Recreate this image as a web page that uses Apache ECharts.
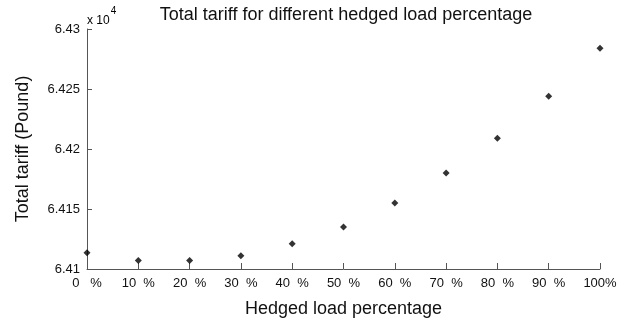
<!DOCTYPE html>
<html>
<head>
<meta charset="utf-8">
<script src="https://cdn.jsdelivr.net/npm/echarts@6/dist/echarts.min.js"></script>
<style>
  html, body { margin: 0; padding: 0; background: #fff; }
  #chart { width: 639px; height: 324px; }
</style>
</head>
<body>
<div id="chart"></div>
<script>
// Hedged load share (%) and the resulting total tariff (Pound)
const hedgedPercent = [0, 10, 20, 30, 40, 50, 60, 70, 80, 90, 100];
const totalTariff = [64113.5, 64107, 64107, 64111, 64121, 64135, 64155, 64180, 64209, 64244, 64284];
const xTickLabels = ['0   %', '10  %', '20  %', '30  %', '40  %', '50  %', '60  %', '70  %', '80  %', '90  %', '100%'];
const yTickLabels = ['6.41', '6.415', '6.42', '6.425', '6.43'];
const yMin = 64100, yMax = 64300, yStep = 50;

const font = 'Arial, "Liberation Sans", sans-serif';
const ink = '#111';
const axisInk = '#555';
const chart = echarts.init(document.getElementById('chart'), null, { renderer: 'canvas' });

chart.setOption({
  animation: false,
  backgroundColor: '#ffffff',
  title: {
    text: 'Total tariff for different hedged load percentage',
    left: 341, top: 1, textAlign: 'center',
    textStyle: { fontFamily: font, fontSize: 18, fontWeight: 'normal', color: ink }
  },
  grid: { left: 87, right: 39, top: 29, bottom: 55 },
  xAxis: {
    type: 'value', min: 0, max: 100, interval: 10,
    name: 'Hedged load percentage', nameLocation: 'middle', nameGap: 31,
    nameTextStyle: { fontFamily: font, fontSize: 18, color: ink },
    axisLine: { lineStyle: { color: axisInk, width: 1 } },
    axisTick: { inside: true, length: 6, lineStyle: { color: axisInk } },
    axisLabel: {
      fontFamily: font, fontSize: 13, color: ink, margin: 8,
      formatter: (v) => xTickLabels[Math.round(v / 10)]
    },
    splitLine: { show: false }
  },
  yAxis: {
    type: 'value', min: yMin, max: yMax, interval: yStep,
    name: 'Total tariff (Pound)', nameLocation: 'middle', nameGap: 55,
    nameTextStyle: { fontFamily: font, fontSize: 18, color: ink },
    axisLine: { show: true, lineStyle: { color: axisInk, width: 1 } },
    axisTick: { show: true, inside: true, length: 5, lineStyle: { color: axisInk } },
    axisLabel: {
      fontFamily: font, fontSize: 13, color: ink, margin: 7,
      formatter: (v) => yTickLabels[Math.round((v - yMin) / yStep)]
    },
    splitLine: { show: false }
  },
  graphic: [{
    type: 'text', left: 87, top: 6,
    style: {
      text: '{b|x 10}{s|4}',
      rich: {
        b: { fontFamily: font, fontSize: 12, color: ink, verticalAlign: 'bottom', padding: [9, 0, 0, 0] },
        s: { fontFamily: font, fontSize: 10, color: ink, verticalAlign: 'top', padding: [0, 0, 7, 1] }
      }
    }
  }],
  series: [{
    type: 'scatter',
    data: hedgedPercent.map((p, i) => [p, totalTariff[i]]),
    symbol: 'diamond', symbolSize: 7,
    itemStyle: { color: '#000' }
  }]
});
</script>
</body>
</html>
